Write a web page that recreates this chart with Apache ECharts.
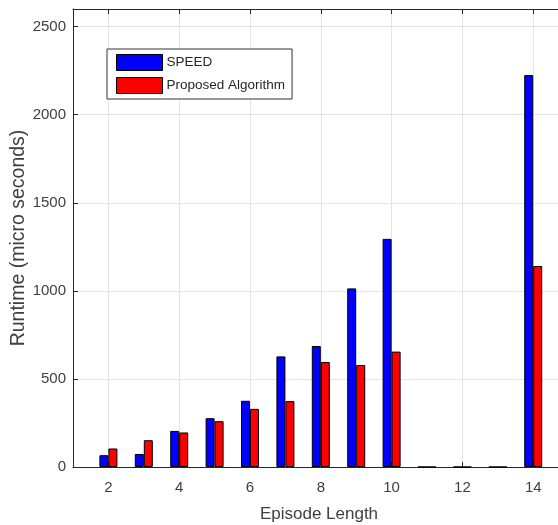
<!DOCTYPE html>
<html>
<head>
<meta charset="utf-8">
<script src="https://cdn.jsdelivr.net/npm/echarts@6/dist/echarts.min.js"></script>
<style>html,body{margin:0;padding:0;background:#fff}#c{width:558px;height:525px}</style>
</head>
<body>
<div id="c"></div>
<script>
var episodeLengths = [2, 3, 4, 5, 6, 7, 8, 9, 10, 11, 12, 13, 14];
var speedRuntime =    [67, 74, 205, 277, 376, 628, 687, 1014, 1295, 0, 0, 0, 2225];
var proposedRuntime = [105, 152, 196, 260, 330, 374, 596, 579, 655, 0, 0, 0, 1141];
var xTicks = [2, 4, 6, 8, 10, 12, 14];
var seriesNames = ['SPEED', 'Proposed Algorithm'];

function pairs(xs, ys) { return xs.map(function (x, i) { return [x, ys[i]]; }); }

var textColor = '#404040';
var fontFam = 'Arial, "Liberation Sans", Helvetica, sans-serif';

var chart = echarts.init(document.getElementById('c'), null, {renderer: 'canvas'});
chart.setOption({
  animation: false,
  backgroundColor: '#fff',
  grid: {left: 73, top: 9, right: 0, bottom: 58, show: false, outerBoundsMode: 'none', containLabel: false},
  legend: {
    orient: 'vertical', left: 107, top: 49,
    data: seriesNames,
    icon: 'rect',
    itemWidth: 46, itemHeight: 16, itemGap: 6,
    padding: [5, 7, 5, 9],
    backgroundColor: '#fff', borderColor: '#333', borderWidth: 1, borderRadius: 0,
    textStyle: {color: '#262626', fontSize: 13.5, fontFamily: fontFam, padding: [0, 0, 0, -1]},
    itemStyle: {borderColor: '#000', borderWidth: 1}
  },
  xAxis: [{
    type: 'value', min: 1, max: 14.7, position: 'bottom',
    name: 'Episode Length', nameLocation: 'middle', nameGap: 39,
    nameTextStyle: {color: textColor, fontSize: 17, fontFamily: fontFam, padding: [0, 0, 0, 7]},
    axisLine: {show: true, lineStyle: {color: '#262626', width: 1}},
    axisTick: {show: true, inside: true, length: 5, customValues: xTicks, lineStyle: {color: '#262626'}},
    axisLabel: {customValues: xTicks, color: textColor, fontSize: 15, fontFamily: fontFam, margin: 13},
    splitLine: {show: true, lineStyle: {color: '#e3e3e3', width: 1}}
  }, {
    type: 'value', min: 1, max: 14.7, position: 'top',
    axisLine: {show: true, lineStyle: {color: '#262626', width: 1}},
    axisTick: {show: true, inside: true, length: 5, customValues: xTicks, lineStyle: {color: '#262626'}},
    axisLabel: {show: false, customValues: xTicks},
    splitLine: {show: false}
  }],
  yAxis: {
    type: 'value', min: 0, max: 2600, interval: 500,
    name: 'Runtime (micro seconds)', nameLocation: 'middle', nameGap: 44, nameMoveOverlap: false,
    nameTextStyle: {color: textColor, fontSize: 19.5, fontFamily: fontFam},
    axisLine: {show: true, lineStyle: {color: '#262626', width: 1}},
    axisTick: {show: true, inside: true, length: 5, lineStyle: {color: '#262626'}},
    axisLabel: {color: textColor, fontSize: 15, fontFamily: fontFam, margin: 7, showMaxLabel: false,
      formatter: function (v) { return String(v); }},
    splitLine: {show: true, lineStyle: {color: '#e3e3e3', width: 1}}
  },
  series: [{
    name: seriesNames[0], type: 'bar', xAxisIndex: 0,
    data: pairs(episodeLengths, speedRuntime),
    barWidth: 9, barGap: '0%',
    itemStyle: {color: '#0000ff', borderColor: '#000', borderWidth: 1}
  }, {
    name: seriesNames[1], type: 'bar', xAxisIndex: 0,
    data: pairs(episodeLengths, proposedRuntime),
    barWidth: 9, barGap: '0%',
    itemStyle: {color: '#ff0000', borderColor: '#000', borderWidth: 1}
  }]
});
</script>
</body>
</html>
